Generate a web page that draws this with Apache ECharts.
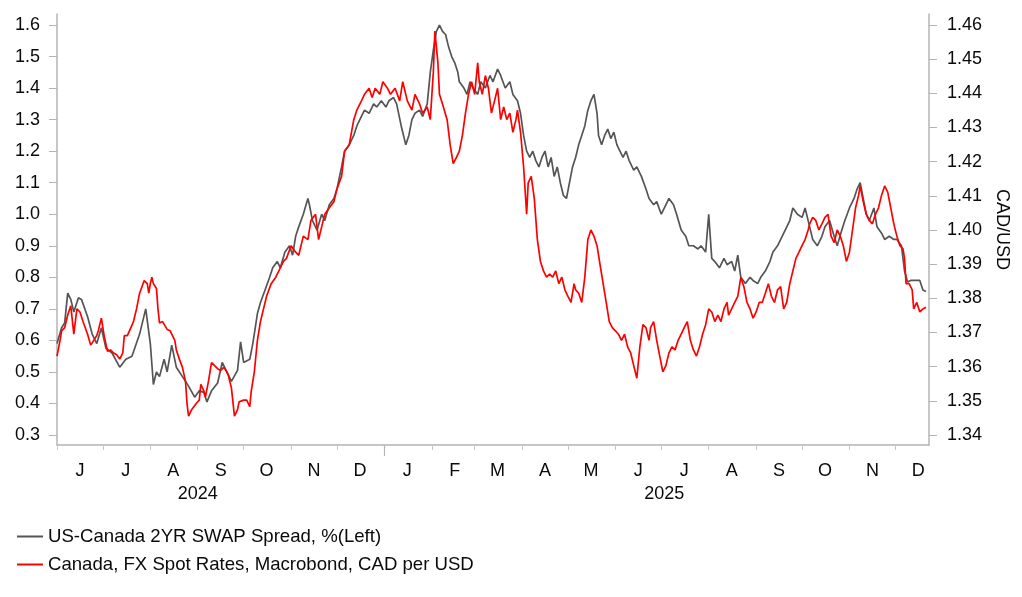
<!DOCTYPE html>
<html>
<head>
<meta charset="utf-8">
<script src="https://cdn.jsdelivr.net/npm/echarts@6/dist/echarts.min.js"></script>
<style>
html,body{margin:0;padding:0;background:#fff;}
#chart{width:1022px;height:597px;}
</style>
</head>
<body>
<div id="chart"></div>
<script>
// ---- data (days since 2024-06-01) ----
const seriesNames = ['US-Canada 2YR SWAP Spread, %(Left)', 'Canada, FX Spot Rates, Macrobond, CAD per USD'];

const spreadDays = [0,3,5,7,9,11,14,16,20,23,26,29,32,36,41,45,49,54,58,61,63,65,67,70,72,75,78,82,86,90,93,96,98,101,105,108,111,114,118,120,122,126,128,131,
133,136,139,141,144,146,149,152,154,156,158,161,164,165,167,170,173,175,178,181,183,186,188,191,194,196,199,201,204,207,209,212,215,217,220,222,225,228,230,232,234,237,239,242,244,246,248,250,252,254,256,258,260,262,263,266,268,270,272,275,277,280,283,285,288,290,293,296,298,301,303,305,307,309,311,313,315,317,319,321,323,325,327,329,331,333,335,337,339,341,343,345,347,349,351,353,354,356,358,360,362,364,366,368,370,372,374,377,379,382,385,387,390,392,395,398,400,403,405,408,411,413,416,419,421,424,426,428,430,433,436,438,441,443,445,447,450,453,455,458,460,463,466,468,471,474,476,479,481,484,487,489,492,494,497,500,502,505,508,510,513,515,518,521,523,525,527,529,531,534,536,539,541,544,547,549,552,554,556,558,561,564,566,568];
const spreadVals = [0.59,0.64,0.655,0.75,0.73,0.69,0.735,0.73,0.675,0.62,0.59,0.64,0.575,0.56,0.515,0.54,0.55,0.62,0.70,0.59,0.46,0.50,0.485,0.54,0.50,0.585,0.515,0.485,0.455,0.42,0.44,0.435,0.405,0.44,0.465,0.53,0.50,0.47,0.505,0.595,0.53,0.54,0.59,0.685,
0.72,0.76,0.80,0.83,0.85,0.83,0.88,0.90,0.87,0.93,0.96,1.00,1.05,1.03,0.98,0.95,1.00,0.98,1.03,1.05,1.08,1.15,1.20,1.22,1.25,1.28,1.31,1.33,1.32,1.35,1.34,1.36,1.34,1.36,1.37,1.35,1.28,1.22,1.25,1.30,1.32,1.33,1.31,1.35,1.45,1.52,1.58,1.60,1.58,1.57,1.53,1.50,1.48,1.45,1.42,1.40,1.38,1.42,1.40,1.38,1.42,1.40,1.44,1.42,1.46,1.44,1.40,1.42,1.38,1.36,1.32,1.25,1.20,1.18,1.20,1.17,1.15,1.18,1.20,1.15,1.18,1.12,1.15,1.10,1.06,1.05,1.10,1.15,1.18,1.22,1.25,1.28,1.33,1.36,1.38,1.32,1.25,1.22,1.25,1.27,1.24,1.26,1.22,1.20,1.18,1.20,1.17,1.14,1.15,1.12,1.08,1.05,1.03,1.04,1.00,1.03,1.05,1.03,1.00,0.95,0.93,0.90,0.90,0.89,0.90,0.88,1.00,0.86,0.85,0.83,0.86,0.84,0.85,0.82,0.87,0.80,0.78,0.80,0.79,0.78,0.80,0.82,0.85,0.88,0.90,0.93,0.95,0.98,1.02,1.00,0.99,1.02,0.96,0.92,0.90,0.93,0.96,0.98,0.93,0.90,0.95,0.98,1.02,1.05,1.08,1.10,1.05,1.00,0.98,1.02,0.96,0.94,0.92,0.93,0.92,0.92,0.90,0.82,0.785,0.79,0.79,0.79,0.76,0.755];

const fxDays = [0,2,3,5,7,9,11,13,15,17,20,22,24,26,27,29,31,33,35,37,39,41,43,44,46,47,50,52,54,57,59,60,61,62,63,65,66,67,69,70,72,74,75,77,78,80,82,84,85,86,88,91,93,94,96,97,99,101,103,105,107,109,111,112,114,116,118,119,122,124,126,127,129,131,133,
135,137,140,143,145,148,150,153,156,158,161,164,166,169,171,173,175,178,181,183,186,188,191,194,196,199,201,204,206,208,211,213,216,218,221,224,226,229,232,234,237,239,242,244,246,247,249,250,252,255,257,259,261,263,265,267,269,271,273,275,276,278,280,282,284,286,288,290,292,294,296,298,300,301,303,305,307,308,310,312,314,316,318,320,322,324,326,328,330,332,334,336,338,339,341,343,345,347,349,351,353,355,357,359,361,363,365,367,369,371,373,375,377,379,381,383,385,387,388,390,392,394,396,398,400,402,404,406,408,410,412,414,416,418,420,422,424,426,428,430,432,434,436,438,439,441,443,445,447,449,451,453,455,457,459,461,463,465,467,469,471,473,475,477,479,481,483,485,487,489,491,492,494,496,498,500,502,504,506,508,510,512,514,516,518,520,522,524,525,527,529,531,533,535,537,539,541,543,545,547,549,551,553,554,555,557,559,560,562,564,566,568];
const fxVals = [1.3631,1.3677,1.3705,1.3714,1.3751,1.3778,1.3695,1.3769,1.3760,1.3732,1.3695,1.3663,1.3677,1.3691,1.3705,1.3742,1.3686,1.3645,1.3649,1.3640,1.3635,1.3622,1.3640,1.3691,1.3691,1.3695,1.3732,1.3769,1.3815,1.3852,1.3843,1.3815,1.3843,1.3862,1.3843,1.3829,1.3769,1.3728,1.3732,1.3737,1.3709,1.3705,1.3695,1.3677,1.3649,1.3622,1.3598,1.3557,1.3492,1.3455,1.3474,1.3492,1.3502,1.3548,1.3529,1.3511,1.3557,1.3612,1.3603,1.3594,1.3589,1.3598,1.3585,1.3575,1.3538,1.3455,1.3474,1.3497,1.3502,1.3502,1.3483,1.3529,1.3585,1.3677,1.3732,
1.3769,1.3806,1.3843,1.3862,1.3880,1.3908,1.3917,1.3954,1.3935,1.3926,1.3982,1.3972,1.4028,1.4046,1.3972,1.4009,1.4046,1.4065,1.4083,1.4120,1.4157,1.4231,1.4249,1.4323,1.4351,1.4378,1.4397,1.4415,1.4388,1.4415,1.4397,1.4434,1.4415,1.4397,1.4415,1.4378,1.4434,1.4378,1.4351,1.4397,1.4369,1.4342,1.4360,1.4323,1.4462,1.4582,1.4489,1.4397,1.4369,1.4323,1.4249,1.4194,1.4212,1.4231,1.4277,1.4342,1.4397,1.4434,1.4397,1.4489,1.4434,1.4397,1.4452,1.4415,1.4342,1.4378,1.4415,1.4323,1.4360,1.4323,1.4342,1.4286,1.4323,1.4351,1.4286,1.4185,1.4046,1.4138,1.4157,1.4092,1.3972,1.3908,1.3880,1.3862,1.3871,1.3862,1.3880,1.3843,1.3862,1.3825,1.3806,1.3788,1.3843,1.3825,1.3815,1.3788,1.3862,1.3972,1.4000,1.3982,1.3954,1.3898,1.3843,1.3788,1.3732,1.3714,1.3705,1.3695,1.3677,1.3695,1.3658,1.3640,1.3603,1.3566,1.3658,1.3723,1.3714,1.3677,1.3714,1.3732,1.3677,1.3631,1.3585,1.3603,1.3640,1.3658,1.3649,1.3677,1.3695,1.3714,1.3732,1.3677,1.3649,1.3631,1.3658,1.3695,1.3723,1.3769,1.3760,1.3732,1.3751,1.3732,1.3769,1.3788,1.3751,1.3769,1.3788,1.3806,1.3862,1.3834,1.3788,1.3769,1.3742,1.3760,1.3788,1.3788,1.3815,1.3843,1.3806,1.3788,1.3825,1.3834,1.3769,1.3788,1.3843,1.3880,1.3917,1.3935,1.3954,1.3972,1.4000,1.4018,1.4037,1.4028,1.4000,1.4018,1.4037,1.4046,1.3982,1.3963,1.4000,1.3982,1.3954,1.3908,1.3935,1.4000,1.4065,1.4102,1.4129,1.4083,1.4046,1.4028,1.4018,1.4046,1.4065,1.4102,1.4129,1.4111,1.4065,1.4018,1.3982,1.3954,1.3945,1.3917,1.3843,1.3843,1.3825,1.3769,1.3788,1.3760,1.3769,1.3774];

// ---- axis ticks / labels ----
const leftTicks = [0.3,0.4,0.5,0.6,0.7,0.8,0.9,1.0,1.1,1.2,1.3,1.4,1.5,1.6];
const rightTicks = [1.34,1.35,1.36,1.37,1.38,1.39,1.40,1.41,1.42,1.43,1.44,1.45,1.46];
const monthLetters = ['J','J','A','S','O','N','D','J','F','M','A','M','J','J','A','S','O','N','D'];
const yearLabels = ['2024','2025'];
const yearLabelDates = [[2024,8,1],[2025,6,3]];

const DAY = 86400000;
const t0 = new Date(2024,5,1).getTime();
const tEnd = new Date(2025,11,23).getTime();
const monthStarts = monthLetters.map((m,i)=>new Date(2024,5+i,1).getTime());
const monthMids = monthLetters.map((m,i)=>new Date(2024,5+i,16).getTime());
const yearTickVals = [new Date(2025,0,1).getTime()];
const yearVals = yearLabelDates.map(a=>new Date(a[0],a[1],a[2]).getTime());

const spreadData = spreadDays.map((d,i)=>[t0 + d*DAY, spreadVals[i]]);
const fxData = fxDays.map((d,i)=>[t0 + d*DAY, fxVals[i]]);

const FONT = 'Liberation Sans, Arial, sans-serif';
const TXT = '#0a0a0a';
const AXC = '#b4b4b4';

function monthLabel(v){const d=new Date(v);const idx=(d.getFullYear()-2024)*12+d.getMonth()-5;return monthLetters[idx]||'';}
function yearLabel(v){const d=new Date(v);return yearLabels[d.getFullYear()-2024]||'';}

const chart = echarts.init(document.getElementById('chart'), null, {renderer:'canvas'});
chart.setOption({
  animation:false,
  backgroundColor:'#fff',
  textStyle:{fontFamily:FONT},
  grid:{left:57,right:93,top:14,bottom:152,containLabel:false},
  legend:{
    orient:'vertical',left:17,top:527,itemWidth:26,itemHeight:2,itemGap:9,
    icon:'rect',padding:0,
    textStyle:{fontFamily:FONT,fontSize:18.6,color:TXT},
    data:seriesNames
  },
  xAxis:[{
    type:'value',min:t0,max:tEnd,position:'bottom',scale:true,
    axisLine:{show:true,onZero:false,lineStyle:{color:AXC,width:1.5}},
    axisTick:{show:true,customValues:monthStarts,length:5,lineStyle:{color:'#c8c8c8',width:1}},
    axisLabel:{customValues:monthMids,margin:17,fontSize:18,color:TXT,fontFamily:FONT,formatter:monthLabel},
    splitLine:{show:false}
  },{
    type:'value',min:t0,max:tEnd,position:'bottom',gridIndex:0,scale:true,
    axisLine:{show:false,onZero:false},
    axisTick:{show:true,customValues:yearTickVals,length:11,lineStyle:{color:'#b4b4b4',width:1.2}},
    axisLabel:{customValues:yearVals,margin:40,fontSize:18,color:TXT,fontFamily:FONT,formatter:yearLabel},
    splitLine:{show:false}
  }],
  yAxis:[{
    type:'value',position:'left',min:0.2683,max:1.6349,
    axisLine:{show:true,onZero:false,lineStyle:{color:AXC,width:1.5}},
    axisTick:{show:true,customValues:leftTicks,length:8,lineStyle:{color:'#b4b4b4'}},
    axisLabel:{customValues:leftTicks,margin:17,fontSize:18,color:TXT,fontFamily:FONT,formatter:v=>v.toFixed(1)},
    splitLine:{show:false}
  },{
    type:'value',position:'right',min:1.33707,max:1.46322,
    name:'CAD/USD',nameLocation:'middle',nameRotate:-90,nameGap:56,
    nameTextStyle:{fontSize:18,color:TXT,fontFamily:FONT},
    axisLine:{show:true,onZero:false,lineStyle:{color:AXC,width:1.5}},
    axisTick:{show:true,customValues:rightTicks,length:8,lineStyle:{color:'#b4b4b4'}},
    axisLabel:{customValues:rightTicks,margin:18,fontSize:18,color:TXT,fontFamily:FONT,formatter:v=>v.toFixed(2)},
    splitLine:{show:false}
  }],
  series:[{
    name:seriesNames[0],type:'line',xAxisIndex:0,yAxisIndex:0,data:spreadData,
    symbol:'none',lineStyle:{color:'#555555',width:1.7},itemStyle:{color:'#555555'},z:2
  },{
    name:seriesNames[1],type:'line',xAxisIndex:0,yAxisIndex:1,data:fxData,
    symbol:'none',lineStyle:{color:'#ff0000',width:1.7},itemStyle:{color:'#ff0000'},z:3
  }]
});
</script>
</body>
</html>
